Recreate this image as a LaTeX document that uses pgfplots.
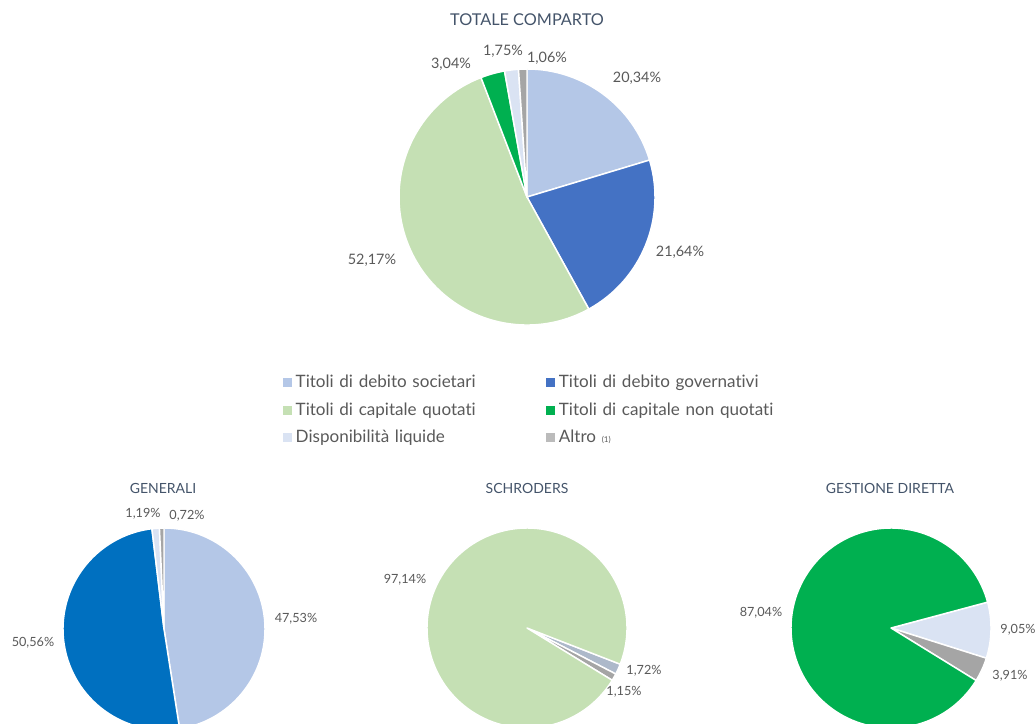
\documentclass[border=0pt]{standalone}
\usepackage{pgfplots}
\pgfplotsset{compat=1.18}
\usepackage{fontspec}
\setmainfont{Lato}[Ligatures=NoCommon]

\definecolor{soc}{HTML}{B4C7E7}
\definecolor{gov}{HTML}{4472C4}
\definecolor{govb}{HTML}{0070C0}
\definecolor{quot}{HTML}{C5E0B4}
\definecolor{nonq}{HTML}{00B050}
\definecolor{liq}{HTML}{DAE3F3}
\definecolor{altro}{HTML}{A5A5A5}
\definecolor{bgray}{HTML}{ADB9CA}
\definecolor{lblc}{HTML}{595959}
\definecolor{titc}{HTML}{44546A}

\pgfkeys{/pgf/number format/.cd, fixed, fixed zerofill, precision=2, use comma, assume math mode=true}
\newcommand\pct[1]{\pgfmathprintnumber{#1}\%}

% cx, cy, radius (px), start angle, list value/colour/label x/label y, label style
\newcommand\pie[6]{%
  \xdef\pieacc{#4}%
  \pgfmathsetmacro\rad{0.75*#3}%
  \foreach \v/\c/\lx/\ly in {#5}{%
    \pgfmathsetmacro\aone{\pieacc}%
    \pgfmathsetmacro\atwo{\pieacc-3.6*\v}%
    \edef\cmd{\noexpand\fill[\c, draw=white, line width=1.1pt, line join=round]
      (axis cs:#1,#2) -- ([shift={(\aone:\rad pt)}]axis cs:#1,#2)
      arc[start angle=\aone, end angle=\atwo, radius=\rad pt] -- cycle;}%
    \cmd
    \xdef\pieacc{\atwo}%
  }%
  \foreach \v/\c/\lx/\ly in {#5}{%
    \edef\cmd{\noexpand\node[#6] at (axis cs:\lx,\ly) {\noexpand\pct{\v}};}%
    \cmd
  }%
}

\tikzset{
  lbltop/.style={font=\fontsize{10.8}{12}\selectfont, text=lblc, inner sep=0pt},
  lblbot/.style={font=\fontsize{9.5}{11}\selectfont, text=lblc, inner sep=0pt},
  ttop/.style={font=\fontsize{12.2}{14}\selectfont, text=titc, inner sep=0pt},
  tbot/.style={font=\fontsize{10.5}{12}\selectfont, text=titc, inner sep=0pt},
}

\begin{document}
\begin{tikzpicture}
\begin{axis}[
  x=0.75pt, y=0.75pt, y dir=reverse,
  xmin=0, xmax=1035, ymin=0, ymax=724,
  hide axis, clip=true,
  legend columns=2,
  legend image code/.code={\fill[#1] (0pt,-3pt) rectangle (6pt,3pt);},
  legend cell align=left,
  legend style={draw=none, fill=none, at={(0.2695,0.495)}, anchor=north west,
    font=\fontsize{12.8}{15}\selectfont, text=lblc,
    nodes={text width=185pt, inner xsep=3pt, inner ysep=4.9pt},
    column sep=0pt},
]
\addlegendimage{soc}\addlegendentry{Titoli di debito societari}
\addlegendimage{gov}\addlegendentry{Titoli di debito governativi}
\addlegendimage{quot}\addlegendentry{Titoli di capitale quotati}
\addlegendimage{nonq}\addlegendentry{Titoli di capitale non quotati}
\addlegendimage{liq}\addlegendentry{Disponibilità liquide}
\addlegendimage{altro!75}\addlegendentry{Altro {\fontsize{6}{7}\selectfont (1)}}

\node[ttop] at (axis cs:527,20) {TOTALE COMPARTO};
\node[tbot] at (axis cs:163,488) {GENERALI};
\node[tbot] at (axis cs:527,488) {SCHRODERS};
\node[tbot] at (axis cs:890,488) {GESTIONE DIRETTA};

\pie{527}{197}{128}{90}{20.34/soc/637/78, 21.64/gov/680/252, 52.17/quot/372/260,
  3.04/nonq/451/64, 1.75/liq/503/51, 1.06/altro/547/58}{lbltop}
\pie{164}{629}{101}{90}{47.53/soc/296/619, 50.56/govb/33/643,
  1.19/liq/143/514, 0.72/altro/187/516}{lblbot}
\pie{527}{628}{100}{-21.2}{1.72/bgray/644/671, 1.15/altro/624/692,
  97.14/quot/405/580}{lblbot}
\pie{891}{628}{100}{15}{9.05/liq/1018/630, 3.91/altro/1010/676,
  87.04/nonq/761/613}{lblbot}
\end{axis}
\pgfresetboundingbox
\path (current axis.south west) rectangle (current axis.north east);
\end{tikzpicture}
\end{document}
